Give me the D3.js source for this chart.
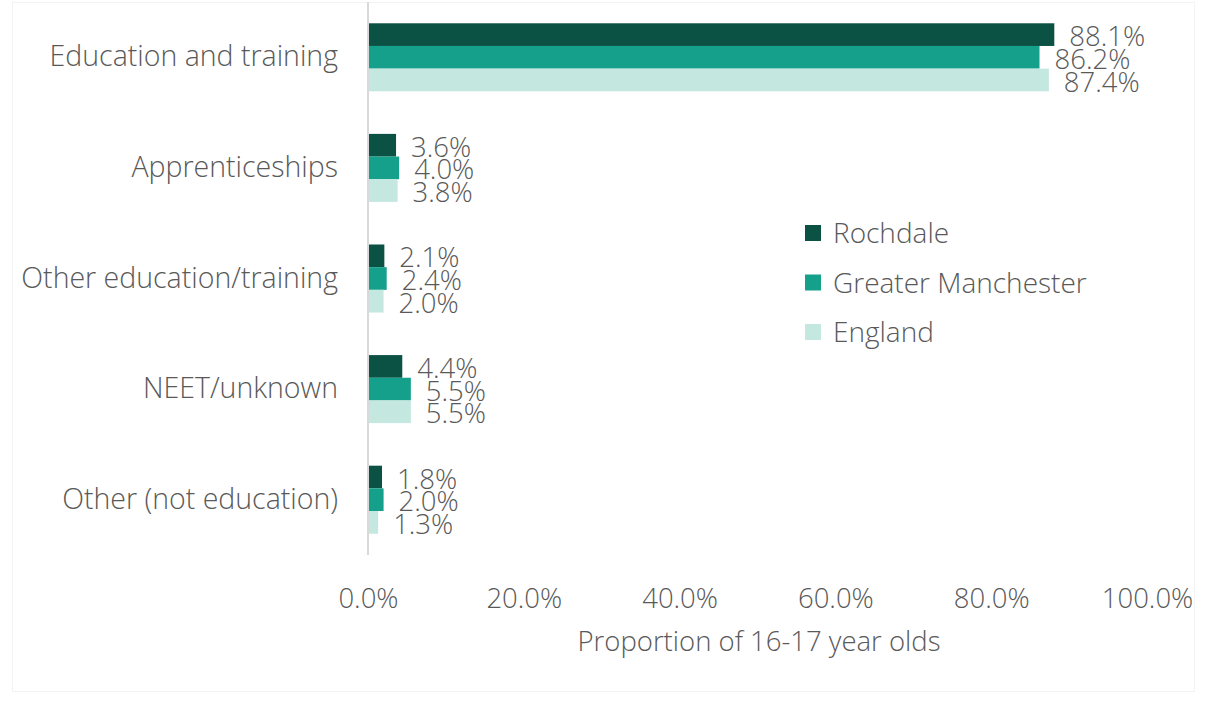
<!DOCTYPE html>
<html>
<head>
<meta charset="utf-8">
<script src="https://cdn.jsdelivr.net/npm/d3@7/dist/d3.min.js"></script>
<style>
  html, body { margin: 0; padding: 0; background: #fff; }
  svg { display: block; }
  text { font-family: "Open Sans", "Noto Sans", sans-serif; fill: #595959; font-weight: 350; }
</style>
</head>
<body>
<svg id="chart" width="1205" height="708"></svg>
<script>
// Destinations of 16-17 year olds
const categories = ["Education and training", "Apprenticeships", "Other education/training", "NEET/unknown", "Other (not education)"];
const seriesNames = ["Rochdale", "Greater Manchester", "England"];
const rochdale = [88.1, 3.6, 2.1, 4.4, 1.8];
const greaterManchester = [86.2, 4.0, 2.4, 5.5, 2.0];
const england = [87.4, 3.8, 2.0, 5.5, 1.3];
const tickValues = [0, 20, 40, 60, 80, 100];
const seriesColors = ["#0b5144", "#14a08a", "#c4e7e0"];
const axisTitle = "Proportion of 16-17 year olds";

const series = [rochdale, greaterManchester, england];
const svg = d3.select("#chart");
const FONT = "'Open Sans', 'Noto Sans', sans-serif";

// chart frame
svg.append("rect")
  .attr("x", 12.5).attr("y", 2.5)
  .attr("width", 1182).attr("height", 689)
  .attr("fill", "none").attr("stroke", "#f3f3f3").attr("stroke-width", 1);

const plot = { left: 368, right: 1147, top: 2, bottom: 555 };

const x = d3.scaleLinear().domain([0, 100]).range([plot.left, plot.right]);
const y0 = d3.scaleBand().domain(categories).range([plot.top, plot.bottom])
  .paddingInner(0.385).paddingOuter(0.1925);
const y1 = d3.scaleBand().domain(seriesNames).range([0, y0.bandwidth()]);

const fmt = d => d.toFixed(1) + "%";

// bars
const groups = svg.append("g").selectAll("g")
  .data(categories)
  .join("g")
  .attr("transform", c => `translate(0,${y0(c)})`);

groups.selectAll("rect")
  .data((c, i) => seriesNames.map((s, k) => ({ s, k, v: series[k][i] })))
  .join("rect")
  .attr("x", x(0))
  .attr("y", d => y1(d.s))
  .attr("width", d => x(d.v) - x(0))
  .attr("height", y1.bandwidth())
  .attr("fill", d => seriesColors[d.k]);

// value labels
groups.selectAll("text")
  .data((c, i) => seriesNames.map((s, k) => ({ s, k, v: series[k][i] })))
  .join("text")
  .attr("x", d => x(d.v) + 15)
  .attr("y", d => y1(d.s) + y1.bandwidth() / 2)
  .attr("dy", "0.42em")
  .attr("font-size", 27.5)
  .text(d => fmt(d.v));

// vertical axis line
svg.append("line")
  .attr("x1", x(0)).attr("x2", x(0))
  .attr("y1", plot.top).attr("y2", plot.bottom)
  .attr("stroke", "#d9d9d9").attr("stroke-width", 2);

// category labels
const yAxis = d3.axisLeft(y0).tickSize(0).tickPadding(30);
const ya = svg.append("g").attr("transform", `translate(${x(0)},0)`).call(yAxis);
ya.select(".domain").remove();
ya.selectAll("text").attr("font-size", 28.5).attr("fill", "#595959")
  .style("font-family", FONT).style("font-weight", 350);

// horizontal tick labels
const xAxis = d3.axisBottom(x).tickValues(tickValues).tickSize(0).tickPadding(0)
  .tickFormat(fmt);
const xa = svg.append("g").attr("transform", `translate(0,588)`).call(xAxis);
xa.select(".domain").remove();
xa.selectAll("text").attr("font-size", 27.5).attr("fill", "#595959").attr("dy", "0.36em").attr("y", 10)
  .style("font-family", FONT).style("font-weight", 350);

// axis title
svg.append("text")
  .attr("x", 759).attr("y", 641)
  .attr("dy", "0.36em")
  .attr("text-anchor", "middle")
  .attr("font-size", 27.5)
  .text(axisTitle);

// legend
const legend = svg.append("g").attr("transform", "translate(805,233)");
const li = legend.selectAll("g").data(seriesNames).join("g")
  .attr("transform", (d, i) => `translate(0,${i * 49.5})`);
li.append("rect").attr("x", 0).attr("y", -8).attr("width", 16).attr("height", 16)
  .attr("fill", (d, i) => seriesColors[i]);
li.append("text").attr("x", 28).attr("y", 0).attr("dy", "0.36em")
  .attr("font-size", 28).text(d => d);
</script>
</body>
</html>
